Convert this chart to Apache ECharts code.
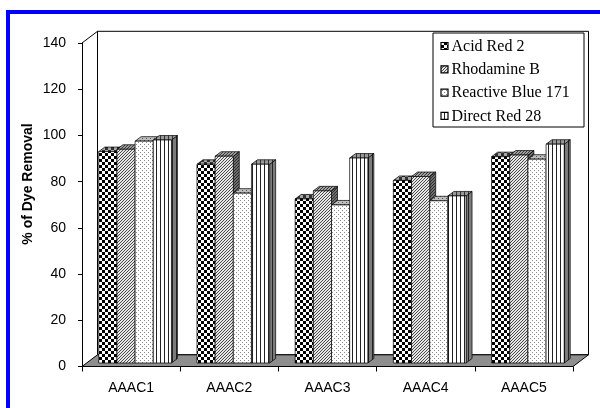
<!DOCTYPE html>
<html>
<head>
<meta charset="utf-8">
<script src="https://cdn.jsdelivr.net/npm/echarts@6/dist/echarts.min.js"></script>
<style>
  html, body { margin: 0; padding: 0; background: #fff; }
  #chart { width: 600px; height: 408px; }
</style>
</head>
<body>
<div id="chart"></div>
<script>
// ---- data ----
const categories = ['AAAC1', 'AAAC2', 'AAAC3', 'AAAC4', 'AAAC5'];
const seriesNames = ['Acid Red 2', 'Rhodamine B', 'Reactive Blue 171', 'Direct Red 28'];
const acidRed2 = [91.5, 86, 71, 79, 89.3];
const rhodamineB = [92.5, 89.5, 74.5, 80.7, 90];
const reactiveBlue171 = [96, 73.5, 68.4, 70.2, 88.2];
const directRed28 = [96.5, 86, 88.7, 72.3, 94.7];
const yTicks = [0, 20, 40, 60, 80, 100, 120, 140];
const yAxisTitle = '% of Dye Removal';

const seriesValues = [acidRed2, rhodamineB, reactiveBlue171, directRed28];

// ---- 3D look ----
const BAR_FRAC = 0.185;       // bar width as a share of the category band
const SHIFT_X = 4, SHIFT_Y = -3.5;   // bars sit a little behind the front edge
const DEPTH_X = 6, DEPTH_Y = -4.5;   // bar depth
const WALL_X = 15.5, WALL_Y = -11.7; // floor / back wall depth

function tile(w, h, bg, paint) {
  const c = document.createElement('canvas');
  c.width = w; c.height = h;
  const g = c.getContext('2d');
  g.fillStyle = bg; g.fillRect(0, 0, w, h);
  paint(g);
  return { image: c, repeat: 'repeat' };
}
function checker(bg, fg) {
  return tile(6, 6, bg, g => { g.fillStyle = fg; g.fillRect(0, 0, 3, 3); g.fillRect(3, 3, 3, 3); });
}
function diagonal(bg, fg) {
  return tile(3, 3, bg, g => { g.fillStyle = fg; g.fillRect(2, 0, 1, 1); g.fillRect(1, 1, 1, 1); g.fillRect(0, 2, 1, 1); });
}
function dots(bg, fg) {
  return tile(4, 4, bg, g => { g.fillStyle = fg; g.fillRect(0, 0, 1, 1); g.fillRect(2, 2, 1, 1); });
}
function stripes(bg, fg) {
  return tile(4, 1, bg, g => { g.fillStyle = fg; g.fillRect(0, 0, 1, 1); });
}

const fills = [
  { front: checker('#ffffff', '#000000'), top: checker('#a8a8a8', '#303030'), side: checker('#7a7a7a', '#202020') },
  { front: diagonal('#e6e6e6', '#4a4a4a'), top: diagonal('#a0a0a0', '#383838'), side: diagonal('#6e6e6e', '#2c2c2c') },
  { front: dots('#ffffff', '#8a8a8a'), top: dots('#bdbdbd', '#555555'), side: dots('#808080', '#3a3a3a') },
  { front: stripes('#ffffff', '#222222'), top: stripes('#989898', '#333333'), side: stripes('#7c7c7c', '#222222') }
];

function barRenderer(s) {
  return function (params, api) {
    const ci = api.value(0), v = api.value(1);
    const base = api.coord([ci, 0]);
    const top = api.coord([ci, v]);
    const band = api.size([1, 0])[0];
    const bw = band * BAR_FRAC;
    const x0 = base[0] - 2 * bw + s * bw + SHIFT_X;
    const x1 = x0 + bw;
    const yb = base[1] + SHIFT_Y;
    const yt = top[1] + SHIFT_Y;
    const f = fills[s];
    const line = { stroke: '#000', lineWidth: 0.7 };
    return {
      type: 'group',
      children: [
        { type: 'polygon', shape: { points: [[x1, yb], [x1 + DEPTH_X, yb + DEPTH_Y], [x1 + DEPTH_X, yt + DEPTH_Y], [x1, yt]] },
          style: Object.assign({ fill: f.side }, line) },
        { type: 'polygon', shape: { points: [[x0, yt], [x0 + DEPTH_X, yt + DEPTH_Y], [x1 + DEPTH_X, yt + DEPTH_Y], [x1, yt]] },
          style: Object.assign({ fill: f.top }, line) },
        { type: 'rect', shape: { x: x0, y: yt, width: bw, height: yb - yt },
          style: Object.assign({ fill: f.front }, line) }
      ]
    };
  };
}

// floor, back wall and the slanted link at the top of the value axis
function frameRenderer(params, api) {
  const band = api.size([1, 0])[0];
  const left = api.coord([0, 0])[0] - band / 2;
  const right = api.coord([categories.length - 1, 0])[0] + band / 2;
  const y0 = api.coord([0, yTicks[0]])[1];
  const yTop = api.coord([0, yTicks[yTicks.length - 1]])[1];
  const line = { stroke: '#000', lineWidth: 1 };
  return {
    type: 'group',
    children: [
      { type: 'polygon', shape: { points: [[left + WALL_X, y0 + WALL_Y], [left + WALL_X, yTop + WALL_Y], [right + WALL_X, yTop + WALL_Y], [right + WALL_X, y0 + WALL_Y]] },
        style: Object.assign({ fill: '#ffffff' }, line) },
      { type: 'line', shape: { x1: left, y1: yTop, x2: left + WALL_X, y2: yTop + WALL_Y }, style: line },
      { type: 'polygon', shape: { points: [[left, y0], [left + WALL_X, y0 + WALL_Y], [right + WALL_X, y0 + WALL_Y], [right, y0]] },
        style: Object.assign({ fill: '#8e8e8e' }, line) }
    ]
  };
}

// legend box, drawn as a custom series so it can reuse the bar fills
const LEG_X = 433, LEG_Y = 33, LEG_W = 151, LEG_H = 94, ROW_H = 23.3;
function legendRenderer(params, api) {
  const children = [{
    type: 'rect', shape: { x: LEG_X, y: LEG_Y, width: LEG_W, height: LEG_H },
    style: { fill: '#fff', stroke: '#000', lineWidth: 1 }
  }];
  seriesNames.forEach((name, s) => {
    const cy = LEG_Y + 13.5 + s * ROW_H;
    children.push({
      type: 'rect', shape: { x: LEG_X + 8, y: cy - 4, width: 7, height: 7 },
      style: { fill: fills[s].front, stroke: '#000', lineWidth: 1.2 }
    });
    children.push({
      type: 'text', x: LEG_X + 18.5, y: cy,
      style: { text: name, font: '16px "Liberation Serif", "Times New Roman", serif', fill: '#000', verticalAlign: 'middle', align: 'left' }
    });
  });
  return { type: 'group', children: children };
}

const series = [{
  type: 'custom',
  name: 'frame',
  silent: true,
  renderItem: frameRenderer,
  data: [[0, 0]],
  encode: { x: 0, y: 1 },
  clip: false
}];
seriesNames.forEach((name, s) => {
  series.push({
    type: 'custom',
    name: name,
    renderItem: barRenderer(s),
    data: seriesValues[s].map((v, i) => [i, v]),
    encode: { x: 0, y: 1 },
    clip: false
  });
});
series.push({
  type: 'custom',
  name: 'legend',
  silent: true,
  z: 10,
  renderItem: legendRenderer,
  data: [[0, 0]],
  encode: { x: 0, y: 1 },
  clip: false
});

const option = {
  animation: false,
  backgroundColor: '#ffffff',
  grid: { left: 82, right: 27, top: 43, bottom: 41.5, containLabel: false },
  xAxis: {
    type: 'category',
    data: categories,
    boundaryGap: true,
    offset: 2,
    axisLine: { lineStyle: { color: '#000', width: 1 } },
    axisTick: { show: true, length: 5, alignWithLabel: false, lineStyle: { color: '#000' } },
    axisLabel: { color: '#000', fontSize: 14, fontFamily: '"Liberation Sans", Arial, sans-serif', margin: 13 },
    splitLine: { show: false }
  },
  yAxis: {
    type: 'value',
    min: yTicks[0],
    max: yTicks[yTicks.length - 1],
    interval: yTicks[1] - yTicks[0],
    axisLine: { show: true, lineStyle: { color: '#000', width: 1 } },
    axisTick: { show: true, length: 4, lineStyle: { color: '#000' } },
    axisLabel: { color: '#000', fontSize: 14, fontFamily: '"Liberation Sans", Arial, sans-serif', margin: 16 },
    splitLine: { show: false }
  },
  graphic: [
    { type: 'rect', shape: { x: 6, y: 10, width: 594, height: 4 }, style: { fill: '#0000ff' }, z: 100 },
    { type: 'rect', shape: { x: 6, y: 10, width: 4, height: 398 }, style: { fill: '#0000ff' }, z: 100 },
    { type: 'text', x: 28, y: 184, rotation: Math.PI / 2,
      style: { text: yAxisTitle, font: 'bold 14px "Liberation Sans", Arial, sans-serif', fill: '#000', align: 'center', verticalAlign: 'middle' } }
  ],
  series: series
};

const chart = echarts.init(document.getElementById('chart'), null, { renderer: 'canvas' });
chart.setOption(option);
</script>
</body>
</html>
